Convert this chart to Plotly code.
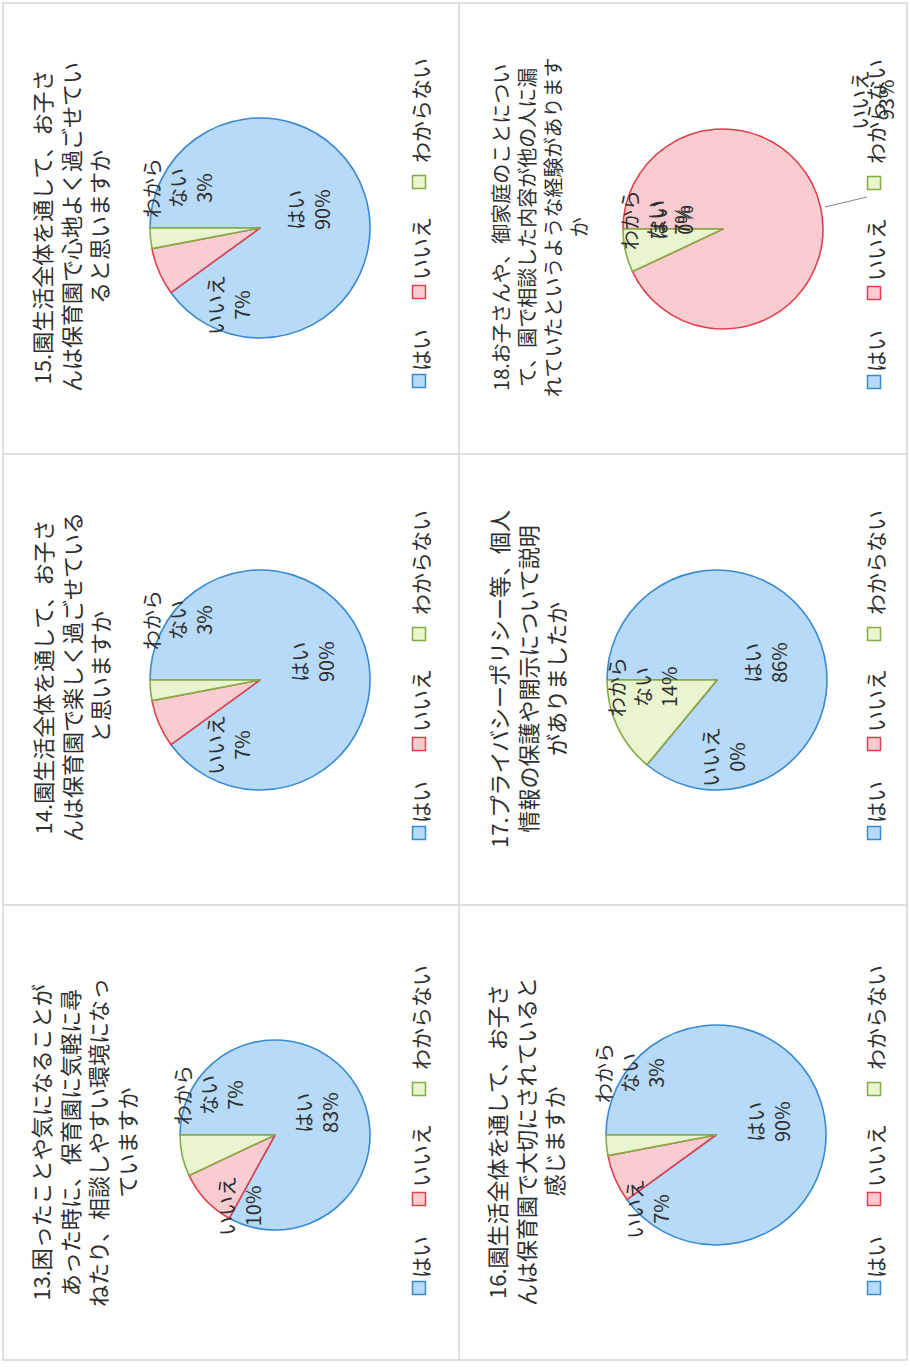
import plotly.graph_objects as go

# ---------------- data ----------------
questions = [
    "13.困ったことや気になることが<br>あった時に、保育園に気軽に尋<br>ねたり、相談しやすい環境になっ<br>ていますか",
    "14.園生活全体を通して、お子さ<br>んは保育園で楽しく過ごせている<br>と思いますか",
    "15.園生活全体を通して、お子さ<br>んは保育園で心地よく過ごせてい<br>ると思いますか",
    "16.園生活全体を通して、お子さ<br>んは保育園で大切にされていると<br>感じますか",
    "17.プライバシーポリシー等、個人<br>情報の保護や開示について説明<br>がありましたか",
    "18.お子さんや、御家庭のことについ<br>て、園で相談した内容が他の人に漏<br>れていたというような経験があります<br>か",
]
categories = ["はい", "いいえ", "わからない"]
category_labels = ["はい", "いいえ", "わから<br>ない"]
hai_pct = [83, 90, 90, 90, 86, 0]
iie_pct = [10, 7, 7, 7, 0, 93]
wakaranai_pct = [7, 3, 3, 3, 14, 7]

# ---------------- styling / layout ----------------
W, H = 910, 1367
fills = ["#b6daf7", "#f8ccd0", "#e9f5cf"]
borders = ["#3a8ad2", "#e0404e", "#86aa44"]
txt_col = "#2e2e2e"
FONT = "Noto Sans CJK JP"

# pie centre (px), radius, column left, title centre, title font size
pies = [
    dict(cx=275, cy=1135, r=95, col=0, tx=83, ty=1143, tf=22),
    dict(cx=260, cy=680, r=110, col=0, tx=70, ty=677, tf=22),
    dict(cx=260, cy=228, r=110, col=0, tx=70, ty=227, tf=22),
    dict(cx=716, cy=1135, r=110, col=455, tx=524, ty=1142, tf=22),
    dict(cx=717, cy=680, r=110, col=455, tx=526, ty=679, tf=22),
    dict(cx=723, cy=229, r=100, col=455, tx=539, ty=228, tf=20),
]
# slice label positions (px): はい, いいえ, わからない
label_pos = [
    [(316, 1113), (239, 1206), (208, 1095)],
    [(312, 662), (228, 745), (177, 620)],
    [(309, 210), (229, 305), (178, 188)],
    [(768, 1122), (647, 1209), (629, 1073)],
    [(765, 663), (723, 757), (642, 687)],
    [(671, 220), (873, 100), (655, 220)],
]


def PX(x):
    return x / W


def PY(y):
    return 1 - y / H


fig = go.Figure()
annotations = []
shapes = []

for i, p in enumerate(pies):
    vals = [hai_pct[i], iie_pct[i], wakaranai_pct[i]]
    fig.add_trace(go.Pie(
        values=vals,
        labels=categories,
        sort=False,
        direction="clockwise",
        rotation=270,
        textinfo="none",
        hoverinfo="label+percent",
        marker=dict(colors=fills, line=dict(color=borders, width=1.6)),
        domain=dict(x=[PX(p["cx"] - p["r"]), PX(p["cx"] + p["r"])],
                    y=[PY(p["cy"] + p["r"]), PY(p["cy"] - p["r"])]),
        showlegend=False,
    ))
    # title
    annotations.append(dict(
        x=PX(p["tx"]), y=PY(p["ty"]), xref="paper", yref="paper",
        text=questions[i], textangle=-90, showarrow=False,
        xanchor="center", yanchor="middle", align="center",
        font=dict(family=FONT, size=p["tf"], color=txt_col),
    ))
    # slice labels
    for k in range(3):
        lx, ly = label_pos[i][k]
        annotations.append(dict(
            x=PX(lx), y=PY(ly), xref="paper", yref="paper",
            text=f"{category_labels[k]}<br>{vals[k]}%", textangle=-90,
            showarrow=False, xanchor="center", yanchor="middle", align="center",
            font=dict(family=FONT, size=20, color=txt_col),
        ))
    # legend (drawn rotated)
    sq_off = [153, 64, -46]
    tx_off = [122, 21, -117]
    for k in range(3):
        sx = p["col"] + 419
        sy = p["cy"] + sq_off[k]
        shapes.append(dict(
            type="rect", xref="paper", yref="paper",
            x0=PX(sx - 6.5), x1=PX(sx + 6.5), y0=PY(sy + 6.5), y1=PY(sy - 6.5),
            fillcolor=fills[k], line=dict(color=borders[k], width=1.5),
        ))
        annotations.append(dict(
            x=PX(p["col"] + 420), y=PY(p["cy"] + tx_off[k]), xref="paper", yref="paper",
            text=categories[k], textangle=-90, showarrow=False,
            xanchor="center", yanchor="middle",
            font=dict(family=FONT, size=21, color=txt_col),
        ))

# leader line for outside label in chart 18
shapes.append(dict(type="line", xref="paper", yref="paper",
                   x0=PX(825), y0=PY(207), x1=PX(867), y1=PY(197),
                   line=dict(color="#8a8a8a", width=1.2)))

# page grid
grid_col = "#d6d6d6"
shapes.append(dict(type="rect", xref="paper", yref="paper",
                   x0=PX(3), x1=PX(907), y0=PY(1360), y1=PY(3),
                   line=dict(color=grid_col, width=1.5)))
shapes.append(dict(type="line", xref="paper", yref="paper",
                   x0=PX(459), x1=PX(459), y0=PY(1360), y1=PY(3),
                   line=dict(color=grid_col, width=1.5)))
for gy in (454, 905):
    shapes.append(dict(type="line", xref="paper", yref="paper",
                       x0=PX(3), x1=PX(907), y0=PY(gy), y1=PY(gy),
                       line=dict(color=grid_col, width=1.5)))

fig.update_layout(
    width=W, height=H, autosize=False,
    margin=dict(l=0, r=0, t=0, b=0),
    paper_bgcolor="white", plot_bgcolor="white",
    annotations=annotations, shapes=shapes,
    showlegend=False,
)

fig.write_html("out.html",
               config={"displayModeBar": False},
               post_script="document.body.style.margin='0';document.body.style.overflow='hidden';")
